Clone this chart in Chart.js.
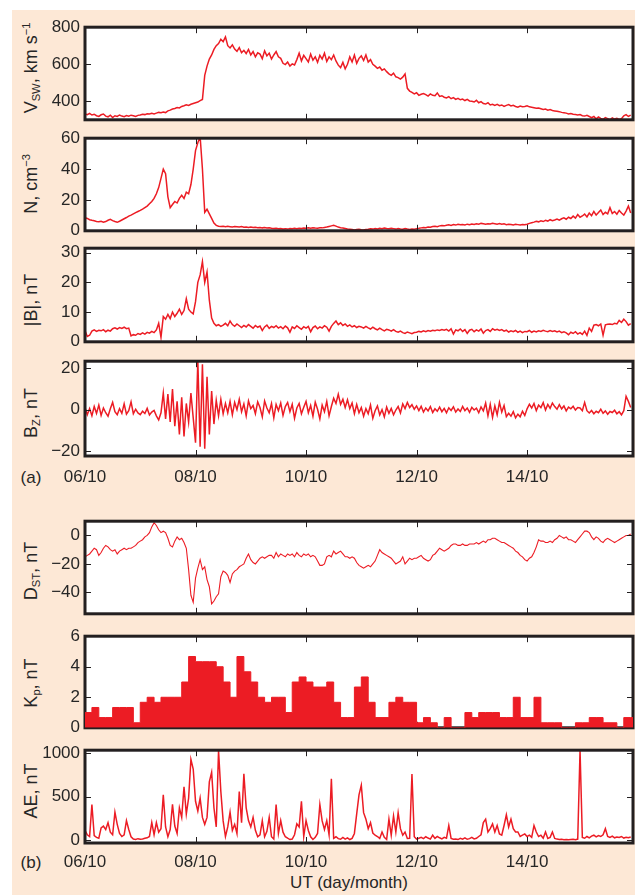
<!DOCTYPE html>
<html>
<head>
<meta charset="utf-8">
<script src="https://cdn.jsdelivr.net/npm/chart.js@4.4.1/dist/chart.umd.min.js"></script>
<style>
  html, body { margin: 0; padding: 0; }
  body { width: 635px; height: 895px; position: relative; overflow: hidden; background: #fff;
         font-family: 'Liberation Sans', Arial, sans-serif; color: #262626; }
  #sheet { position: absolute; left: 12px; top: 10px; right: 0; bottom: 0; background: #fde8d6; }
  canvas { position: absolute; left: 0; }
  .ylab { position: absolute; transform: translate(-50%, -50%) rotate(-90deg); white-space: nowrap;
          font-size: 18px; line-height: 1; }
  .ylab sub, .ylab sup { font-size: 0.62em; line-height: 0; }
  .ylab sub { vertical-align: -0.3em; }
  .ylab sup { vertical-align: 0.6em; }
  .txt { position: absolute; font-size: 17px; line-height: 1; transform: translate(-50%, -50%); white-space: nowrap; }
</style>
</head>
<body>
<div id="sheet"></div>

<div class="ylab" style="left:31px; top:68px">V<sub>SW</sub>, km s<sup>−1</sup></div>
<div class="ylab" style="left:31px; top:184px">N, cm<sup>−3</sup></div>
<div class="ylab" style="left:31px; top:300px">|B|, nT</div>
<div class="ylab" style="left:31px; top:413px">B<sub>Z</sub>, nT</div>
<div class="ylab" style="left:31px; top:571px">D<sub>ST</sub>, nT</div>
<div class="ylab" style="left:31px; top:683px">K<sub>p</sub>, nT</div>
<div class="ylab" style="left:31px; top:791px">AE, nT</div>

<div class="txt" style="left:31px; top:477px">(a)</div>
<div class="txt" style="left:31px; top:862px">(b)</div>
<div class="txt" style="left:349px; top:882px">UT (day/month)</div>

<script>
// time axis: hours after 06/10 00 UT, ticks every two days
const dayTicks = [0, 48, 96, 144, 192];
const dayLabels = ['06/10', '08/10', '10/10', '12/10', '14/10'];

// hourly solar wind speed, km/s
const vsw = [
  332, 328, 335, 326, 330, 322, 318, 327, 331, 320, 316, 325,
  312, 322, 318, 326, 320, 317, 323, 319, 325, 322, 318, 324,
  326, 330, 328, 333, 331, 335, 332, 336, 340, 338, 342, 339,
  348, 352, 358, 361, 366, 364, 372, 376, 381, 378, 384, 388,
  392, 396, 404, 410, 540, 590, 628, 650, 680, 700, 712, 735,
  722, 748, 700, 688, 705, 682, 670, 690, 662, 675, 658, 680,
  650, 668, 640, 662, 655, 630, 672, 645, 660, 628, 650, 668,
  640, 632, 605, 598, 612, 590, 602, 596, 625, 660, 618, 648,
  630, 612, 655, 622, 640, 610, 648, 628, 660, 615, 640, 625,
  650, 618, 595, 582, 610, 575, 600, 640, 612, 650, 605, 632,
  645, 620, 650, 612, 625, 600, 590, 578, 585, 568, 575, 560,
  548, 540, 552, 532, 528, 520, 530, 548, 470, 455, 448, 440,
  446, 432, 438, 442, 436, 428, 440, 432, 430, 445, 426, 430,
  422, 418, 425, 414, 420, 410, 416, 408, 412, 404, 410, 402,
  400, 396, 405, 392, 398, 388, 385, 392, 380, 384, 378, 383,
  376, 380, 372, 378, 382, 375, 378, 372, 368, 374, 370, 372,
  376, 370, 368, 365, 362, 364, 360, 356, 358, 352, 355, 350,
  348, 346, 344, 340, 338, 336, 332, 334, 330, 328, 326, 328,
  322, 320, 324, 318, 312, 318, 305, 315, 308, 302, 312, 306,
  300, 310, 304, 308, 302, 306, 322, 328, 318, 325
];

// proton density, cm^-3
const density = [
  8.5, 8, 7.2, 6.8, 6.5, 6, 5.8, 6.2, 5.6, 6, 6.8, 7.4,
  6.6, 6, 5.5, 6.2, 7, 7.8, 8.6, 9.5, 10.2, 11, 11.8, 12.5,
  13.2, 14, 15, 16, 17.5, 19, 21, 24, 28, 34, 40, 37,
  22, 15, 17, 19, 18, 21, 23, 21, 25, 24, 30, 40,
  52, 57, 61, 40, 12, 14, 11, 8, 5, 3.5, 3, 2.8,
  3, 2.6, 2.9, 2.7, 2.5, 2.8, 2.6, 2.4, 2.7, 2.3, 2.5, 2.2,
  2.4, 2.1, 2.3, 2, 2.2, 1.9, 2.1, 1.8, 2, 1.7, 1.5, 1.6,
  1.3, 1.5, 1.2, 1.4, 1.1, 1.5, 1.3, 1.6, 1.4, 1.7, 1.5, 1.8,
  1.6, 1.9, 1.7, 2, 1.8, 1.7, 2, 1.9, 2.2, 2.4, 2.8, 3.2,
  3.6, 3, 2.4, 2, 1.8, 1.5, 1.2, 1, 0.8, 0.6, 0.8, 1,
  0.7, 0.5, 0.8, 1, 1.3, 1.1, 1.5, 1.2, 1.6, 1.4, 1.8, 1.5,
  1.3, 1.7, 1.4, 1.1, 1.5, 1.2, 1, 1.4, 1.1, 0.9, 1.2, 1,
  1.4, 1.6, 1.9, 2.2, 2, 2.5, 2.3, 2.8, 3, 2.7, 3.2, 3.4,
  3.2, 3.6, 3.9, 3.5, 4, 3.7, 4.2, 3.9, 4.1, 3.8, 4.3, 4,
  4.4, 4.1, 4.6, 4.3, 4.8, 4.5, 4.2, 4.6, 4.4, 4.9, 4.6, 4.3,
  4.7, 4.2, 4.5, 4, 4.3, 4.1, 3.8, 4.2, 4, 3.7, 4.1, 3.9,
  4.3, 4.8, 5.2, 5.6, 6.2, 5.8, 6.5, 6, 6.8, 6.3, 7.2, 6.6,
  7, 7.6, 6.9, 7.8, 8.4, 7.5, 8.8, 8, 9.5, 8.2, 10.5, 8.8,
  9.6, 10.8, 9, 11.5, 9.8, 12.5, 10.2, 11.8, 13.5, 10.5, 12, 11,
  15, 11.2, 12.5, 10.8, 13.2, 11.5, 10.2, 12.8, 16, 11.5
];

// field magnitude |B|, nT
const bmag = [
  3.8, 1.8, 2.2, 3.6, 4, 3.5, 3.9, 3.7, 4.1, 3.4, 3.9, 3.6,
  4.4, 4.7, 4.3, 4.8, 4.5, 4.9, 4.4, 4.6, 2, 2.4, 2.2, 2.8,
  2.5, 3, 2.6, 3.2, 2.9, 3.5, 3.1, 4, 6.2, 1.5, 8.5, 7.6,
  9.2, 7.8, 10, 8.5, 9.6, 11, 9.2, 10.5, 14.5, 11, 10, 9.4,
  13.5, 20, 22.5, 27, 20, 23.5, 14, 8, 6.2, 5.4, 5.8, 5.2,
  5.6, 6.2, 5.4, 7, 5.8, 5.2, 6, 5.4, 4.8, 5.5, 5, 5.8,
  5.2, 4.6, 5.5, 4.9, 5.3, 3.8, 5, 5.6, 4.5, 5.2, 4.8, 5.4,
  4.6, 5.1, 4.4, 5.3, 4.7, 3.2, 5, 4.5, 5.4, 4.8, 4.2, 5.1,
  4.6, 5.2, 3.4, 4.8, 5.3, 4.4, 5, 4.6, 5.4, 4.9, 3.6, 5.2,
  6.2, 7, 5.8, 6.4, 5.5, 6, 5.2, 5.7, 5, 5.4, 4.8, 5.2,
  5, 4.6, 5.2, 4.7, 4.3, 4.9, 4.4, 4, 4.6, 4.1, 3.7, 4.2,
  4, 3.6, 4.1, 3.5, 3.2, 3.6, 3.1, 2.8, 3.3, 3, 2.7, 3.1,
  3.2, 3.5, 3.3, 3.7, 3.4, 3.8, 3.6, 3.9, 3.7, 4, 3.8, 4.1,
  3.9, 4.2, 3.6, 4.4, 2.6, 4, 3.7, 4.3, 3.5, 4.1, 2.8, 3.9,
  4.2, 3.4, 4, 3.6, 4.3, 2.9, 3.8, 4.1, 3.5, 4.4, 3.9, 4.2,
  3.8, 4.1, 3.6, 3.9, 3.3, 3.7, 3.4, 3.8, 3.2, 3.6, 3.1, 3.5,
  3.4, 3.8, 3.2, 3.6, 3.3, 3.7, 3.5, 3.9, 3.6, 3.4, 3.8, 3.5,
  3.7, 3.3, 3.6, 3.1, 3.4, 3, 2.4, 3.2, 2.8, 3.4, 2.6, 3.1,
  2.5, 3.6, 2.2, 4.6, 3.5, 5.6, 5.8, 5.4, 6, 2.2, 5.7, 5.9,
  6, 5.8, 6.2, 6, 7.2, 6.5, 7.6, 6.8, 5.6, 6.1
];

// southward/northward component Bz, nT
const bz = [
  1, -2.5, 0.5, -3, 1.5, -1.8, 2.2, -2.8, 0.8, -1.5, -3.2, 0.4,
  3.5, -1, -2.5, 0.5, -1.8, 2.8, -2.2, -0.5, 3.8, -2, 0.2, -1.6,
  -2.4, -0.8, -1.9, 0.6, -2.6, -1.2, -0.4, -3, -5, -1.5, 8, -4.5,
  7.5, -6, 10, -8, 4, -12, 6, -13, 3, -6, 8, -4,
  -16, 24, -18, 22, -19, 16, -12, 9, -7, 4.5, -3, 5,
  -2, 3, -1.5, 4, -2.5, 3.5, 0, 5, -1, 2.8, -3, 4.2,
  0.5, 2, -2, 3.8, 1, -3.5, 4.2, 0.8, -1.5, 3, -4, 2.5,
  -0.5, 3.2, -2.8, 1.5, 3.5, -1, 2.6, -4.2, 0.8, 3, -2, 1.2,
  4, -1.5, 2, -3.2, 3.6, 0.2, -4.5, 2.2, -1, 4, -3, 1.5,
  5.5, 3, 7.5, 2.5, 5, 1, 4.8, 0.5, 3.2, -2, 2.5, -1.5,
  1, -3.2, 0.5, -2, 2.2, -4.2, -0.5, 1.8, -2.6, 0, -3.5, 1.2,
  -1.8, 0.6, -2.5, -0.2, 1.5, -1.6, 2.8, 0.5, 3.5, 1, 2.4, 0.2,
  1.8, -0.5, 1.6, -1.2, 0.8, -0.6, 1.5, -1.4, 0.4, -0.8, 1.2, -1,
  0.6, -1.5, 0.9, -0.4, 1.4, -1.2, 0.3, -0.9, 1.6, -0.5, 0.8, -1.3,
  1.1, -0.2, 0.7, -1.5, 1.3, -0.6, 3.2, -3, 2.6, -3.8, 1.8, -2.5,
  3.5, -1.2, 2, -3.4, -1.8, -3.2, -1, -4, -2.2, -3.5, -0.8, -2.8,
  0.4, 2.6, 0.8, 3, -0.5, 2.2, 1, 3.4, -0.2, 2.5, 0.6, 3.2,
  1.5, 0.2, 2.4, 0.4, 1.8, -0.6, 1.2, 0.4, 1.6, -0.2, 1, 0.8,
  -0.5, 3.5, -0.5, -1.6, -0.4, -2, -0.8, -1.5, 0.2, -1.8, -0.6, -2.2,
  -0.9, -1.4, -0.3, -2, -1, -2.5, -0.5, 6.5, 4, 1
];

// hourly Dst index, nT
const dst = [
  -15, -14, -13, -11, -9, -10, -14, -12, -9, -7, -8, -10,
  -11, -10, -13, -11, -10, -9, -10, -9, -9, -8, -7, -5,
  -4, -3, -1, 0, 2, 6, 9, 7, 4, 2, 3, 2,
  -2, -7, -8, -4, -1, -3, -2, -5, -9, -24, -42, -47,
  -30, -23, -17, -24, -22, -31, -36, -48, -46, -43, -41, -29,
  -25, -26, -28, -33, -27, -25, -24, -22, -21, -20, -16, -13,
  -17, -19, -20, -18, -16, -15, -16, -15, -14, -14, -16, -12,
  -15, -13, -14, -15, -13, -14, -13, -15, -12, -14, -15, -13,
  -14, -13, -15, -14, -15, -18, -21, -21, -20, -15, -14, -15,
  -11, -13, -12, -11, -13, -15, -15, -16, -15, -16, -19, -21,
  -22, -23, -22, -21, -22, -20, -18, -14, -10, -12, -13, -14,
  -15, -16, -18, -20, -19, -18, -15, -20, -18, -16, -17, -16,
  -16, -15, -14, -16, -17, -18, -17, -14, -13, -11, -9, -10,
  -11, -10, -9, -7, -6, -6, -7, -7, -6, -7, -7, -6,
  -6, -6, -5, -6, -5, -4, -5, -3, -3, -2, -2, -3,
  -4, -5, -5, -6, -7, -8, -9, -11, -12, -14, -15, -17,
  -18, -16, -15, -12, -8, -3, -4, -4, -5, -5, -4, -5,
  -3, -2, 0, -1, -2, -1, -3, -3, -4, -5, -3, -1,
  1, 3, 3, 2, -1, -3, -1, -2, -4, -5, -3, -2,
  -3, -4, -5, -4, -3, -2, -1, 0, 0, 1
];

// three-hourly Kp
const kp = [
  1, 1.33, 0.67, 0.67, 1.33, 1.33, 1.33, 0.33,
  1.67, 2, 1.67, 2, 2, 2, 3, 4.67,
  4.33, 4.33, 4.33, 4, 3, 2, 4.67, 3.67,
  3, 2, 1.67, 2, 2, 1, 3, 3.33,
  3, 2.67, 2.67, 3, 1.67, 0.67, 0.67, 2.67,
  3.33, 1.67, 0.67, 0.67, 1.67, 2, 1.67, 1.67,
  0.33, 0.67, 0.33, 0, 0.67, 0, 0, 1,
  0.67, 1, 1, 1, 0.67, 0.67, 2, 0.67,
  0.67, 2, 0.33, 0.33, 0.33, 0, 0, 0.33,
  0.33, 0.67, 0.67, 0.33, 0.33, 0, 0.67, 0.67
];

// hourly AE index, nT
const ae = [
  110, 60, 40, 409, 50, 30, 20, 140, 160, 120, 200, 90,
  60, 320, 180, 75, 40, 60, 223, 120, 37, 10, 5, 15,
  8, 12, 20, 25, 40, 200, 60, 200, 90, 130, 520, 150,
  37, 120, 410, 160, 75, 370, 260, 614, 300, 483, 929, 818,
  446, 334, 483, 260, 180, 260, 669, 780, 371, 150, 1030, 557,
  220, 40, 150, 320, 111, 180, 75, 557, 200, 762, 371, 223,
  150, 260, 111, 37, 60, 223, 37, 100, 260, 37, 10, 409,
  75, 223, 90, 37, 20, 5, 10, 60, 186, 150, 446, 40,
  223, 110, 37, 5, 30, 75, 409, 220, 120, 223, 60, 706,
  19, 37, 15, 8, 30, 10, 25, 5, 18, 75, 300, 520,
  631, 315, 240, 130, 200, 80, 55, 40, 18, 92, 30, 5,
  240, 55, 277, 92, 315, 130, 55, 92, 18, 20, 761, 37,
  10, 20, 30, 15, 37, 22, 10, 55, 18, 40, 25, 12,
  30, 20, 167, 18, 8, 12, 5, 20, 10, 25, 8, 15,
  30, 12, 20, 40, 60, 200, 240, 92, 130, 185, 92, 167,
  70, 55, 167, 290, 150, 240, 130, 92, 92, 40, 55, 70,
  40, 55, 30, 167, 92, 40, 55, 20, 92, 18, 30, 92,
  18, 10, 5, 8, 3, 6, 2, 5, 8, 4, 10, 1035,
  30, 20, 40, 25, 45, 55, 35, 50, 40, 60, 130, 40,
  30, 45, 25, 35, 28, 40, 22, 30, 25, 35
];

const RED = '#ec1c24';
const INK = '#231f20';
const TEXT = '#262626';
const X_END = 238;

const hourly = vals => vals.map((v, h) => ({ x: h, y: v }));
const threeHourly = vals => {
  const pts = vals.map((v, i) => ({ x: i * 3, y: v }));
  pts.push({ x: vals.length * 3, y: vals[vals.length - 1] });
  return pts;
};

// heavy box with inward ticks on all four sides
function drawFrame(chart) {
  const { ctx, chartArea: a, scales: { x, y } } = chart;
  ctx.save();
  ctx.strokeStyle = INK;
  ctx.lineWidth = 1;
  ctx.beginPath();
  x.ticks.forEach(t => {
    const px = Math.round(x.getPixelForValue(t.value)) + 0.5;
    ctx.moveTo(px, a.top); ctx.lineTo(px, a.top + 6);
    ctx.moveTo(px, a.bottom); ctx.lineTo(px, a.bottom - 6);
  });
  y.ticks.forEach(t => {
    const py = Math.round(y.getPixelForValue(t.value)) + 0.5;
    ctx.moveTo(a.left, py); ctx.lineTo(a.left + 6, py);
    ctx.moveTo(a.right, py); ctx.lineTo(a.right - 6, py);
  });
  ctx.stroke();
  ctx.lineWidth = 3;
  ctx.strokeRect(a.left, a.top, a.right - a.left, a.bottom - a.top);
  ctx.restore();
}

const framePlugin = {
  id: 'frame',
  beforeDraw(chart) {
    const { ctx, chartArea: a } = chart;
    ctx.save();
    ctx.fillStyle = '#fff';
    ctx.fillRect(a.left, a.top, a.right - a.left, a.bottom - a.top);
    ctx.restore();
  },
  beforeDatasetsDraw(chart, args, opts) { if (opts.under) drawFrame(chart); },
  afterDatasetsDraw(chart, args, opts) { if (!opts.under) drawFrame(chart); }
};

const minus = v => String(v).replace('-', '\u2212');

function panel(p) {
  const labelled = !!p.showDays;
  const axisH = labelled ? 34 : 0;
  const padTop = 12, padBottom = labelled ? 2 : 12;
  const canvas = document.createElement('canvas');
  canvas.width = 635;
  canvas.height = padTop + (p.bottom - p.top) + axisH + padBottom;
  canvas.style.top = (p.top - padTop) + 'px';
  document.body.appendChild(canvas);

  new Chart(canvas, {
    type: 'line',
    data: { datasets: [p.dataset] },
    plugins: [framePlugin],
    options: {
      responsive: false,
      animation: false,
      devicePixelRatio: 1,
      layout: { padding: { left: 0, right: 2, top: padTop, bottom: padBottom } },
      elements: { point: { radius: 0 }, line: { tension: 0 } },
      plugins: {
        legend: { display: false },
        tooltip: { enabled: false },
        frame: { under: !!p.frameUnder }
      },
      scales: {
        x: {
          type: 'linear', min: 0, max: X_END,
          afterBuildTicks: s => { s.ticks = dayTicks.map(v => ({ value: v })); },
          afterFit: s => { s.height = axisH; },
          grid: { display: false, drawTicks: false },
          border: { display: false },
          ticks: {
            display: labelled, autoSkip: false, maxRotation: 0, padding: p.labelPad || 10,
            color: TEXT, font: { family: "'Liberation Sans', Arial, sans-serif", size: 17 },
            callback: v => dayLabels[dayTicks.indexOf(v)]
          }
        },
        y: {
          type: 'linear', min: p.min, max: p.max,
          afterBuildTicks: s => { s.ticks = p.ticks.map(v => ({ value: v })); },
          afterFit: s => { s.width = 85; },
          grid: { display: false, drawTicks: false },
          border: { display: false },
          ticks: {
            padding: 5, color: TEXT,
            font: { family: "'Liberation Sans', Arial, sans-serif", size: 17 },
            callback: minus
          }
        }
      }
    }
  });
}

const lineSet = (vals, width) => ({
  data: hourly(vals), borderColor: RED, borderWidth: width || 1.5, fill: false
});

panel({ top: 24, bottom: 123, min: 300, max: 800, ticks: [400, 600, 800], dataset: lineSet(vsw) });
panel({ top: 135, bottom: 234.5, min: 0, max: 60, ticks: [0, 20, 40, 60], dataset: lineSet(density) });
panel({ top: 245, bottom: 345.5, min: 0, max: 31.5, ticks: [0, 10, 20, 30], dataset: lineSet(bmag) });
panel({ top: 357.5, bottom: 456, min: -22.5, max: 23.5, ticks: [-20, 0, 20], dataset: lineSet(bz),
        showDays: true, labelPad: 11 });
panel({ top: 518, bottom: 617, min: -55, max: 10, ticks: [-40, -20, 0], dataset: lineSet(dst, 1.1) });
panel({ top: 633, bottom: 731, min: 0, max: 6, ticks: [0, 2, 4, 6], frameUnder: true,
        dataset: { data: threeHourly(kp), stepped: true, fill: 'origin',
                   borderColor: RED, backgroundColor: RED, borderWidth: 1 } });
panel({ top: 747, bottom: 843, min: -35, max: 1035, ticks: [0, 500, 1000], dataset: lineSet(ae),
        showDays: true, labelPad: 9 });
</script>
</body>
</html>
